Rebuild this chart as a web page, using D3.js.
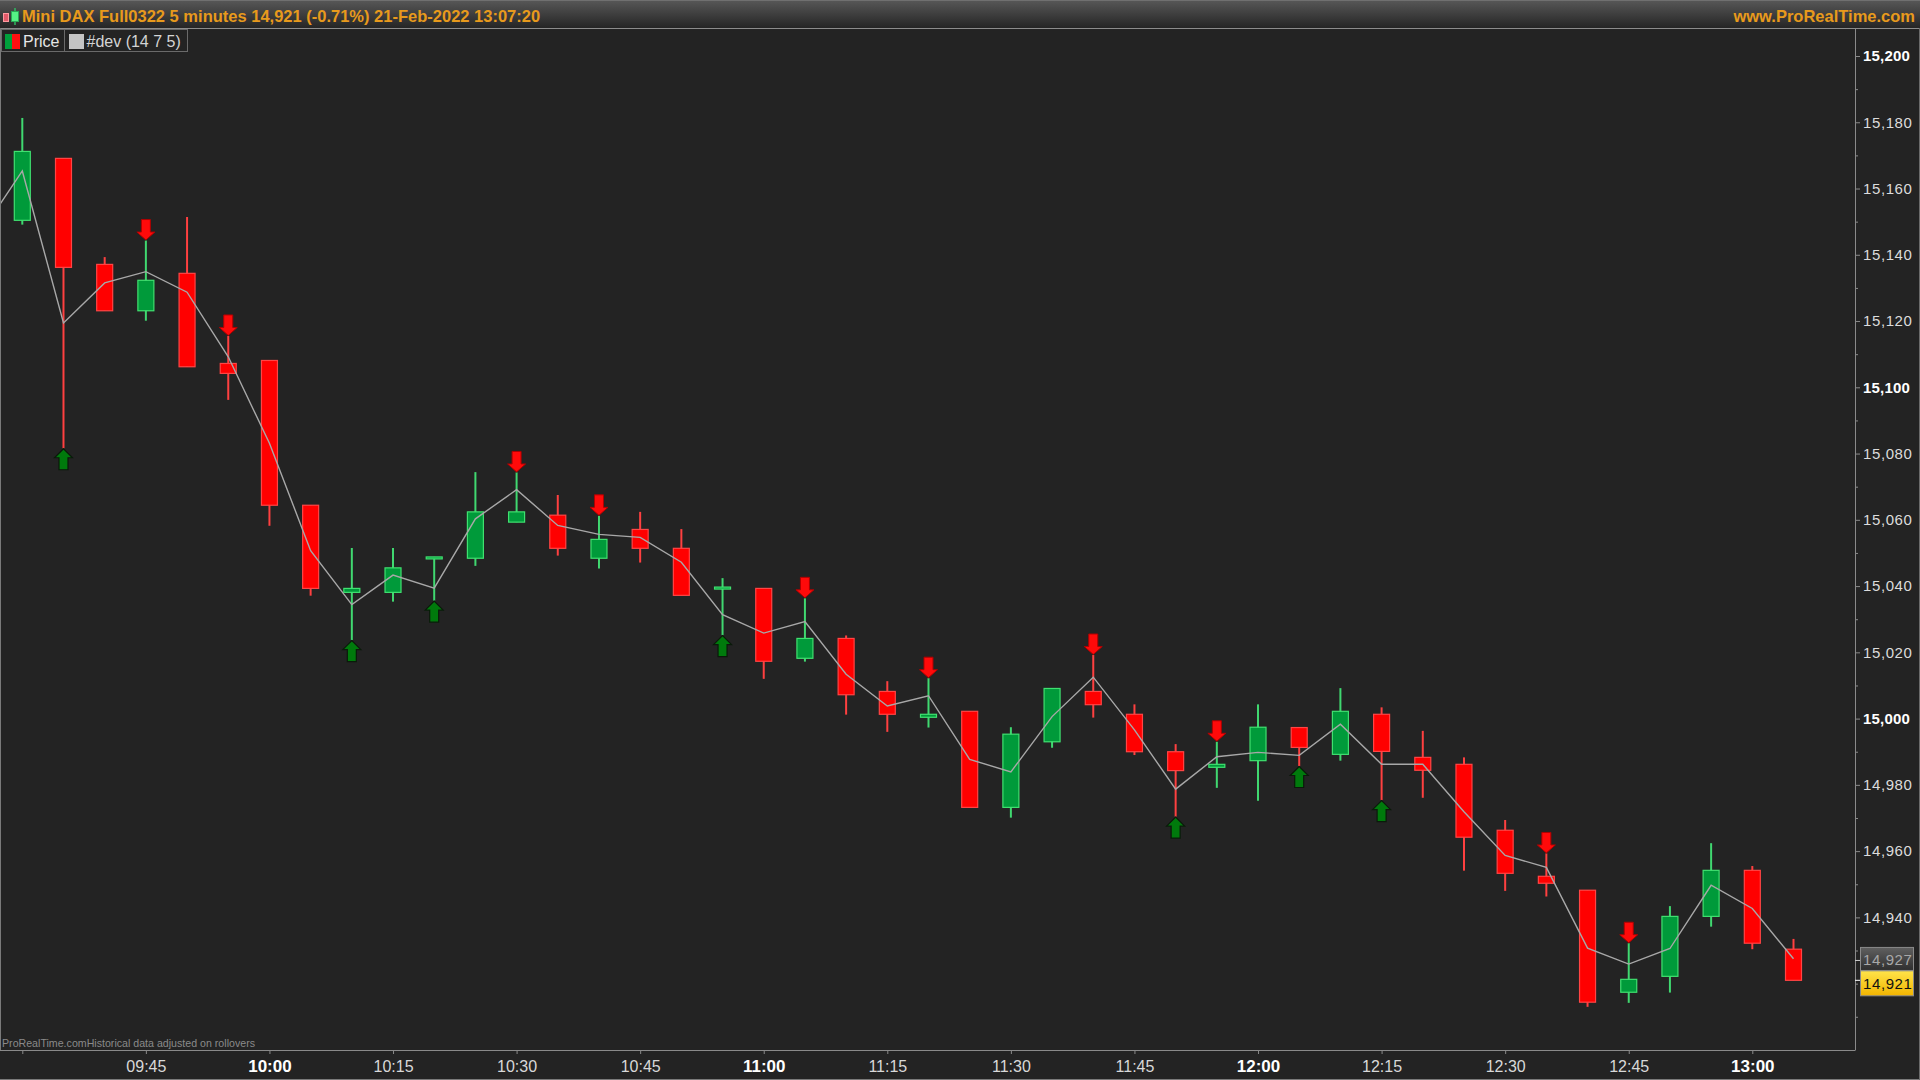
<!DOCTYPE html>
<html><head><meta charset="utf-8">
<script src="https://cdn.jsdelivr.net/npm/d3@7"></script>
<style>
html,body{margin:0;padding:0;background:#232323;overflow:hidden;}
svg{display:block;font-family:"Liberation Sans",Arial,sans-serif;}
</style></head>
<body>
<svg id="chart" width="1920" height="1080"></svg>
<script>
// ---------- DATA ----------
const times = ["09:30","09:35","09:40","09:45","09:50","09:55","10:00","10:05","10:10","10:15","10:20","10:25","10:30","10:35","10:40","10:45","10:50","10:55","11:00","11:05","11:10","11:15","11:20","11:25","11:30","11:35","11:40","11:45","11:50","11:55","12:00","12:05","12:10","12:15","12:20","12:25","12:30","12:35","12:40","12:45","12:50","12:55","13:00","13:05"];
const openV  = [15150.4,15169.1,15137.1,15123.1,15134.4,15107.2,15108.1,15064.4,15038.1,15038.1,15048.2,15048.4,15059.3,15061.4,15048.4,15057.1,15051.4,15039.3,15039.3,15018.2,15024.2,15008.2,15000.4,15002.2,14973.2,14993.0,15008.2,15001.3,14990.0,14985.3,14987.3,14997.3,14989.2,15001.3,14988.3,14986.2,14966.3,14952.4,14948.2,14917.4,14922.2,14940.3,14954.2,14930.4];
const highV  = [15181.3,15169.1,15139.3,15144.3,15151.4,15115.5,15108.1,15064.4,15051.5,15051.5,15048.8,15074.4,15074.3,15067.5,15061.2,15062.4,15057.2,15042.4,15039.3,15036.3,15025.1,15011.3,15012.2,15002.2,14997.4,15009.1,15019.2,15004.3,14992.3,14993.0,15004.3,14997.3,15009.2,15003.4,14996.3,14988.3,14969.4,14959.3,14948.2,14932.2,14943.4,14962.4,14955.5,14933.5];
const lowV   = [15149.1,15081.6,15123.1,15120.1,15106.2,15096.2,15058.2,15037.1,15023.7,15035.3,15035.6,15046.1,15059.3,15049.2,15045.3,15047.1,15037.2,15025.2,15012.0,15017.2,15001.2,14996.0,14997.3,14973.2,14970.1,14991.2,15000.3,14989.0,14970.4,14979.1,14975.2,14985.7,14987.3,14975.4,14976.1,14954.1,14948.0,14946.3,14913.0,14914.2,14917.3,14937.2,14930.4,14921.0];
const closeV = [15171.2,15136.2,15123.1,15132.3,15106.2,15104.2,15064.4,15039.3,15039.3,15045.5,15048.8,15062.4,15062.4,15051.4,15054.1,15051.4,15037.2,15039.7,15017.3,15024.2,15007.2,15001.3,15001.3,14973.2,14995.3,15009.1,15004.2,14990.0,14984.3,14986.2,14997.4,14991.3,15002.2,14990.1,14984.4,14964.2,14953.3,14950.3,14914.4,14921.3,14940.3,14954.2,14932.2,14921.0];
// #dev line: first value belongs to the bar before 09:30 (09:25)
const devStartIndex = -1;
const devV = [15146.7,15165.3,15119.4,15131.5,15134.9,15128.7,15109.2,15083.1,15050.7,15034.4,15043.3,15039.4,15060.3,15069.1,15058.3,15055.6,15054.7,15047.2,15031.4,15025.8,15029.3,15013.4,15003.8,15006.9,14987.7,14983.9,15000.6,15012.5,14996.6,14978.7,14988.5,14989.8,14988.9,14998.3,14986.2,14986.2,14971.9,14958.7,14955.1,14930.7,14925.9,14930.6,14949.7,14942.7,14927.5];
const sellSignals = ["09:45","09:55","10:30","10:40","11:05","11:20","11:40","11:55","12:35","12:45"];
const buySignals  = ["09:35","10:10","10:20","10:55","11:50","12:05","12:15"];
const xTickLabels = ["09:45","10:00","10:15","10:30","10:45","11:00","11:15","11:30","11:45","12:00","12:15","12:30","12:45","13:00"];
const xUnlabeledTicks = ["09:30"];
const yTickLabels = [14940,14960,14980,15000,15020,15040,15060,15080,15100,15120,15140,15160,15180,15200];
const yMinorTicks = [14910,14920,14930,14950,14970,14990,15010,15030,15050,15070,15090,15110,15130,15150,15170,15190];
const lastDev = 14927, lastPrice = 14921;
const titleText = "Mini DAX Full0322 5 minutes 14,921 (-0.71%) 21-Feb-2022 13:07:20";
const siteText = "www.ProRealTime.com";
const legendItems = ["Price", "#dev (14 7 5)"];
const footText = "ProRealTime.comHistorical data adjusted on rollovers";

// ---------- LAYOUT ----------
const W = 1920, H = 1080;
const plotL = 0, plotR = 1855, plotT = 28, plotB = 1050;
const svg = d3.select("#chart");
const x = d3.scaleLinear().domain([0, times.length - 1]).range([22.3, 1793.5]);
const y = d3.scaleLinear().domain([14900, 15200]).range([1049.9, 56]);
const fmt = d3.format(",");
const idx = t => times.indexOf(t);

const RED = "#ff0000", RED_EDGE = "#ff4545", RED_WICK = "#ff4040";
const GRN = "#009a3a", GRN_EDGE = "#40e070", GRN_WICK = "#40d870";

// defs
const defs = svg.append("defs");
function vgrad(id, a, b) {
  const g = defs.append("linearGradient").attr("id", id).attr("x1",0).attr("x2",0).attr("y1",0).attr("y2",1);
  g.append("stop").attr("offset","0%").attr("stop-color",a);
  g.append("stop").attr("offset","100%").attr("stop-color",b);
}
vgrad("hdr", "#585858", "#252525");
vgrad("grayBox", "#606060", "#2e2e2e");
vgrad("yelBox", "#ffe44a", "#f2b400");
defs.append("clipPath").attr("id","plotClip").append("rect")
  .attr("x",plotL+1).attr("y",plotT+1).attr("width",plotR-plotL-1).attr("height",plotB-plotT-1);

svg.append("rect").attr("width",W).attr("height",H).attr("fill","#232323");

// ---------- header ----------
svg.append("rect").attr("x",0).attr("y",0).attr("width",W).attr("height",28).attr("fill","url(#hdr)");
svg.append("line").attr("x1",0).attr("x2",W).attr("y1",0.5).attr("y2",0.5).attr("stroke","#707070");
svg.append("line").attr("x1",0).attr("x2",W).attr("y1",28.5).attr("y2",28.5).attr("stroke","#8c8c8c");
svg.append("rect").attr("x",3.5).attr("y",13.5).attr("width",5).attr("height",8).attr("fill","#e05a6a").attr("stroke","#ff9aa0");
svg.append("line").attr("x1",15).attr("x2",15).attr("y1",8).attr("y2",25).attr("stroke","#30b860").attr("stroke-width",1.5);
svg.append("rect").attr("x",11.5).attr("y",11.5).attr("width",7).attr("height",10).attr("fill","#55f085").attr("stroke","#2aa855");
svg.append("text").attr("x",22).attr("y",21.5).attr("fill","#e89a1c").attr("font-weight","bold").attr("font-size",16.5).text(titleText);
svg.append("text").attr("x",1915).attr("y",21.5).attr("text-anchor","end").attr("fill","#e89a1c").attr("font-weight","bold").attr("font-size",16.5).text(siteText);

// ---------- legend ----------
svg.append("rect").attr("x",1.5).attr("y",29.5).attr("width",63).attr("height",22).attr("fill","none").attr("stroke","#6a6a6a");
svg.append("rect").attr("x",64.5).attr("y",29.5).attr("width",123).attr("height",22).attr("fill","none").attr("stroke","#6a6a6a");
svg.append("rect").attr("x",5).attr("y",34).attr("width",7).attr("height",15).attr("fill","#00a03c");
svg.append("rect").attr("x",12).attr("y",34).attr("width",8).attr("height",15).attr("fill","#ff1010");
svg.append("text").attr("x",23).attr("y",47).attr("fill","#e6e6e6").attr("font-size",16).text(legendItems[0]);
svg.append("rect").attr("x",69).attr("y",34).attr("width",15).attr("height",15).attr("fill","#c4c4c4");
svg.append("text").attr("x",86.5).attr("y",47).attr("fill","#d4d4d4").attr("font-size",16).text(legendItems[1]);

// ---------- frame lines ----------
svg.append("line").attr("x1",0.5).attr("x2",0.5).attr("y1",plotT).attr("y2",plotB).attr("stroke","#7a7a7a");
svg.append("line").attr("x1",0).attr("x2",plotR).attr("y1",plotB+0.5).attr("y2",plotB+0.5).attr("stroke","#8a8a8a");
svg.append("line").attr("x1",0).attr("x2",W).attr("y1",H-0.5).attr("y2",H-0.5).attr("stroke","#7a7a7a");
svg.append("line").attr("x1",W-0.5).attr("x2",W-0.5).attr("y1",28).attr("y2",H).attr("stroke","#6a6a6a");

// footer watermark
svg.append("text").attr("x",2).attr("y",1047).attr("fill","#8a8a8a").attr("font-size",11)
  .attr("textLength",253).attr("lengthAdjust","spacingAndGlyphs").text(footText);

// ---------- plot ----------
const plot = svg.append("g").attr("clip-path","url(#plotClip)");
const bars = times.map((t,i) => ({t, i, o: openV[i], h: highV[i], l: lowV[i], c: closeV[i]}));
const bw = 16;

// wicks
plot.append("g").selectAll("line").data(bars).join("line")
  .attr("x1", d => x(d.i)).attr("x2", d => x(d.i))
  .attr("y1", d => y(d.h)).attr("y2", d => y(d.l))
  .attr("stroke", d => d.c >= d.o ? GRN_WICK : RED_WICK).attr("stroke-width", 2);

// bodies
plot.append("g").selectAll("rect").data(bars).join("rect")
  .attr("x", d => x(d.i) - bw/2).attr("width", bw)
  .attr("y", d => Math.min(y(d.o), y(d.c)))
  .attr("height", d => Math.max(2, Math.abs(y(d.o) - y(d.c))))
  .attr("fill", d => d.c >= d.o ? GRN : RED)
  .attr("stroke", d => d.c >= d.o ? GRN_EDGE : RED_EDGE).attr("stroke-width", 1.2);

// dev line
const devPts = devV.map((v,k) => ({i: k + devStartIndex, v}));
plot.append("path").datum(devPts)
  .attr("d", d3.line().x(d => x(d.i)).y(d => y(d.v)))
  .attr("fill","none").attr("stroke","#a8a8a8").attr("stroke-width",1.4);

// arrows
function downArrow(cx, tipY) {
  const hw = 9, sw = 4.5, hh = 8, tot = 20.5;
  return `M${cx},${tipY} L${cx-hw},${tipY-hh} L${cx-sw},${tipY-hh} L${cx-sw},${tipY-tot} L${cx+sw},${tipY-tot} L${cx+sw},${tipY-hh} L${cx+hw},${tipY-hh} Z`;
}
function upArrow(cx, tipY) {
  const hw = 9, sw = 4.5, hh = 9, tot = 21;
  return `M${cx},${tipY} L${cx-hw},${tipY+hh} L${cx-sw},${tipY+hh} L${cx-sw},${tipY+tot} L${cx+sw},${tipY+tot} L${cx+sw},${tipY+hh} L${cx+hw},${tipY+hh} Z`;
}
plot.append("g").selectAll("path").data(sellSignals).join("path")
  .attr("d", t => downArrow(x(idx(t)), y(highV[idx(t)]) - 0.5))
  .attr("fill", "#ff0a0a").attr("stroke","#b00000").attr("stroke-width",1);
plot.append("g").selectAll("path").data(buySignals).join("path")
  .attr("d", t => upArrow(x(idx(t)), y(lowV[idx(t)]) + 0.5))
  .attr("fill", "#007a0c").attr("stroke","#0a1a0a").attr("stroke-width",1.2);

// ---------- y axis ----------
const yAxisG = svg.append("g").attr("transform",`translate(${plotR},0)`)
  .call(d3.axisRight(y).tickValues(yTickLabels).tickSize(5).tickPadding(3).tickFormat(fmt));
yAxisG.select(".domain").attr("d", `M0.5,${plotT}V${plotB+0.5}`).attr("stroke","#8a8a8a");
yAxisG.selectAll(".tick line").attr("stroke","#8a8a8a").attr("x1",0.5);
yAxisG.selectAll(".tick text")
  .attr("fill", d => d % 100 === 0 ? "#ffffff" : "#dcdcdc")
  .attr("font-weight", d => d % 100 === 0 ? "bold" : "normal")
  .attr("font-size", 15).attr("font-family","'Liberation Sans',Arial,sans-serif")
  .attr("letter-spacing", d => d % 100 === 0 ? "0.2px" : "0.6px");
const yMinorG = svg.append("g").attr("transform",`translate(${plotR},0)`)
  .call(d3.axisRight(y).tickValues(yMinorTicks).tickSize(3).tickFormat(""));
yMinorG.select(".domain").remove();
yMinorG.selectAll(".tick line").attr("stroke","#8a8a8a");

// last value markers
const markG = svg.append("g");
markG.append("line").attr("x1",plotR).attr("x2",plotR+5).attr("y1",y(lastDev)).attr("y2",y(lastDev)).attr("stroke","#cfcfcf");
markG.append("line").attr("x1",plotR).attr("x2",plotR+5).attr("y1",y(lastPrice)).attr("y2",y(lastPrice)).attr("stroke","#ffffff");
const gy = y(lastDev), py = y(lastPrice);
markG.append("rect").attr("x",1860.5).attr("y",gy - 13).attr("width",53).attr("height",23)
  .attr("fill","url(#grayBox)").attr("stroke","#8a8a8a");
markG.append("text").attr("x",1863).attr("y",gy + 4.5).attr("fill","#a8a8a8").attr("font-size",15).attr("letter-spacing","0.6px").text(fmt(lastDev));
markG.append("rect").attr("x",1860.5).attr("y",py - 9.5).attr("width",53).attr("height",25)
  .attr("fill","url(#yelBox)").attr("stroke","#8a8a8a");
markG.append("text").attr("x",1863).attr("y",py + 8.5).attr("fill","#111111").attr("font-size",15).attr("letter-spacing","0.6px").text(fmt(lastPrice));

// ---------- x axis ----------
const xTickIdx = xUnlabeledTicks.concat(xTickLabels).map(idx);
const xAxisG = svg.append("g").attr("transform",`translate(0,${plotB})`)
  .call(d3.axisBottom(x).tickValues(xTickIdx).tickSize(4).tickPadding(6)
    .tickFormat(i => xTickLabels.includes(times[i]) ? times[i] : ""));
xAxisG.select(".domain").remove();
xAxisG.selectAll(".tick line").attr("stroke","#8a8a8a").attr("y1",0.5);
xAxisG.selectAll(".tick text")
  .attr("fill", i => times[i].endsWith(":00") ? "#ffffff" : "#d8d8d8")
  .attr("font-weight", i => times[i].endsWith(":00") ? "bold" : "normal")
  .attr("font-size", i => times[i].endsWith(":00") ? 17 : 16).attr("font-family","'Liberation Sans',Arial,sans-serif")
  .attr("dy", null).attr("y", 21.5);
</script>
</body></html>
